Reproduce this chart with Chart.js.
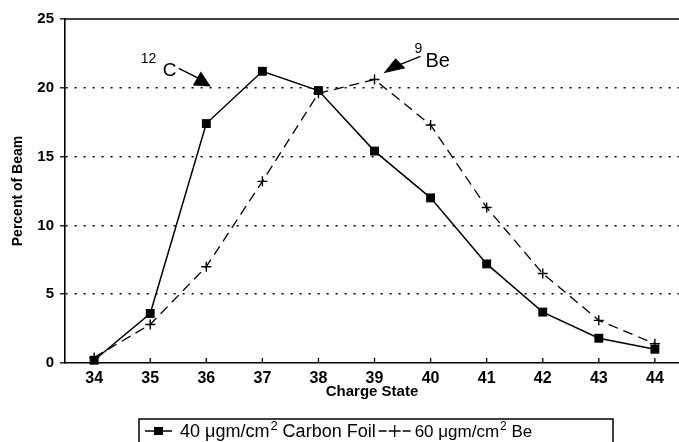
<!DOCTYPE html>
<html>
<head>
<meta charset="utf-8">
<script src="https://cdn.jsdelivr.net/npm/chart.js@4/dist/chart.umd.min.js"></script>
<style>
html,body{margin:0;padding:0;background:#fff;}
#wrap{width:679px;height:442px;position:relative;}
</style>
</head>
<body>
<div id="wrap"><canvas id="c" width="679" height="442"></canvas></div>
<script>
// ---- data ----
const chargeStates = [34, 35, 36, 37, 38, 39, 40, 41, 42, 43, 44];
const carbonFoil   = [0.2, 3.6, 17.4, 21.2, 19.8, 15.4, 12.0, 7.2, 3.7, 1.8, 1.0];
const berylliumFoil = [0.4, 2.8, 7.0, 13.2, 19.6, 20.6, 17.3, 11.3, 6.5, 3.1, 1.4];
const seriesLabels = ['40 μgm/cm² Carbon Foil', '60 μgm/cm² Be'];
const yTickValues = [0, 5, 10, 15, 20, 25];
const xTickValues = chargeStates;
const xTitle = 'Charge State';
const yTitle = 'Percent of Beam';
const peakLabels = [
  { sup: '12', text: 'C' },
  { sup: '9', text: 'Be' }
];

const FONT = '"Liberation Sans", Arial, Helvetica, sans-serif';

function toPts(xs, ys) { return xs.map((x, i) => ({ x: x, y: ys[i] })); }

// draw text containing "²" with a real superscript
function drawRich(ctx, text, x, y, size) {
  const parts = text.split('²');
  ctx.textBaseline = 'alphabetic';
  ctx.textAlign = 'left';
  let cx = x;
  parts.forEach((p, i) => {
    ctx.font = size + 'px ' + FONT;
    ctx.fillText(p, cx, y);
    cx += ctx.measureText(p).width;
    if (i < parts.length - 1) {
      ctx.font = Math.round(size * 0.72) + 'px ' + FONT;
      ctx.fillText('2', cx + 1, y - size * 0.4);
      cx += ctx.measureText('2').width + 1;
    }
  });
  ctx.font = size + 'px ' + FONT;
  return cx - x;
}

const decorPlugin = {
  id: 'decor',
  afterDraw(chart) {
    const ctx = chart.ctx;
    const xs = chart.scales.x, ys = chart.scales.y;
    const ca = chart.chartArea;
    ctx.save();
    ctx.strokeStyle = '#000';
    ctx.fillStyle = '#000';
    // top frame line at 25
    ctx.lineWidth = 1.5;
    ctx.beginPath();
    ctx.moveTo(ca.left, ys.getPixelForValue(25));
    ctx.lineTo(ca.right, ys.getPixelForValue(25));
    ctx.stroke();
    // inner tick marks on x axis
    ctx.lineWidth = 1.3;
    xTickValues.forEach(v => {
      const px = xs.getPixelForValue(v);
      ctx.beginPath();
      ctx.moveTo(px, ca.bottom);
      ctx.lineTo(px, ca.bottom - 5);
      ctx.stroke();
    });

    // annotation: 12C
    const A = { x: xs.getPixelForValue(36.08), y: ys.getPixelForValue(20.1) };
    ctx.beginPath();
    ctx.moveTo(A.x - 18, A.y - 1);
    ctx.lineTo(A.x, A.y);
    ctx.lineTo(A.x - 10, A.y - 15);
    ctx.closePath();
    ctx.fill();
    ctx.lineWidth = 1.5;
    ctx.beginPath();
    ctx.moveTo(A.x - 32, A.y - 18);
    ctx.lineTo(A.x - 12, A.y - 8);
    ctx.stroke();
    ctx.textBaseline = 'middle';
    ctx.textAlign = 'left';
    ctx.font = '19px ' + FONT;
    ctx.fillText(peakLabels[0].text, A.x - 48, A.y - 16);
    ctx.font = '14px ' + FONT;
    ctx.fillText(peakLabels[0].sup, A.x - 70, A.y - 27);

    // annotation: 9Be
    const B = { x: xs.getPixelForValue(39.16), y: ys.getPixelForValue(21.05) };
    ctx.beginPath();
    ctx.moveTo(B.x, B.y);
    ctx.lineTo(B.x + 12, B.y - 15);
    ctx.lineTo(B.x + 22, B.y - 5);
    ctx.closePath();
    ctx.fill();
    ctx.beginPath();
    ctx.moveTo(B.x + 17, B.y - 9);
    ctx.lineTo(B.x + 37, B.y - 17);
    ctx.stroke();
    ctx.font = '14px ' + FONT;
    ctx.fillText(peakLabels[1].sup, B.x + 31, B.y - 24);
    ctx.font = '20px ' + FONT;
    ctx.fillText(peakLabels[1].text, B.x + 42, B.y - 12);

    // legend
    const lx = 139, ly = 419, lr = 613;
    const cy = 431;
    ctx.lineWidth = 1.5;
    ctx.beginPath();
    ctx.moveTo(lx, chart.height + 2);
    ctx.lineTo(lx, ly);
    ctx.lineTo(lr, ly);
    ctx.lineTo(lr, chart.height + 2);
    ctx.stroke();
    // carbon symbol
    let x = 145;
    ctx.lineWidth = 1.5;
    ctx.setLineDash([]);
    ctx.beginPath();
    ctx.moveTo(x, cy); ctx.lineTo(x + 27, cy); ctx.stroke();
    ctx.fillRect(x + 9, cy - 4, 9, 8);
    x += 35;
    const w1 = drawRich(ctx, seriesLabels[0], x, cy + 6, 18);
    x += w1 + 3;
    // Be symbol
    ctx.lineWidth = 1.3;
    ctx.beginPath();
    ctx.moveTo(x, cy); ctx.lineTo(x + 8, cy);
    ctx.moveTo(x + 24, cy); ctx.lineTo(x + 32, cy);
    ctx.moveTo(x + 10, cy); ctx.lineTo(x + 22, cy);
    ctx.moveTo(x + 16, cy - 6); ctx.lineTo(x + 16, cy + 6);
    ctx.stroke();
    x += 36;
    drawRich(ctx, seriesLabels[1], x, cy + 6, 17);
    ctx.restore();
  }
};

new Chart(document.getElementById('c'), {
  type: 'line',
  data: {
    datasets: [
      {
        label: seriesLabels[0],
        data: toPts(chargeStates, carbonFoil),
        borderColor: '#000',
        backgroundColor: '#000',
        borderWidth: 1.5,
        pointStyle: 'rect',
        pointRadius: 6.3,
        pointBorderWidth: 0,
        pointBackgroundColor: '#000',
        tension: 0,
        fill: false,
        clip: false
      },
      {
        label: seriesLabels[1],
        data: toPts(chargeStates, berylliumFoil),
        borderColor: '#000',
        backgroundColor: '#000',
        borderWidth: 1.3,
        borderDash: [10, 6],
        pointStyle: 'cross',
        pointRadius: 5,
        pointBorderWidth: 1.4,
        pointBorderColor: '#000',
        tension: 0,
        fill: false,
        clip: false
      }
    ]
  },
  plugins: [decorPlugin],
  options: {
    responsive: false,
    animation: false,
    events: [],
    layout: { autoPadding: false, padding: { top: 19, right: 0, bottom: 41, left: 0 } },
    plugins: {
      legend: { display: false },
      tooltip: { enabled: false }
    },
    scales: {
      x: {
        type: 'linear',
        min: 33.48,
        max: 44.43,
        afterBuildTicks: s => { s.ticks = xTickValues.map(v => ({ value: v })); },
        afterFit: s => { s.height = 38; s.paddingRight = 0; s.paddingLeft = 0; },
        grid: { display: false, drawTicks: false },
        border: { display: true, color: '#000', width: 1.6 },
        ticks: {
          padding: 6,
          color: '#000',
          font: { family: FONT, size: 16, weight: 'bold' },
          maxRotation: 0,
          autoSkip: false
        },
        title: {
          display: true,
          text: xTitle,
          color: '#000',
          font: { family: FONT, size: 15, weight: 'bold' },
          padding: { top: 0, bottom: 0 }
        }
      },
      y: {
        min: 0,
        max: 25,
        afterBuildTicks: s => { s.ticks = yTickValues.map(v => ({ value: v })); },
        afterFit: s => { s.width = 65; },
        grid: {
          color: c => (c.tick && (c.tick.value === 0 || c.tick.value === 25)) ? 'rgba(0,0,0,0)' : '#000',
          lineWidth: 1.6,
          drawTicks: true,
          tickLength: 5,
          tickColor: '#000',
          tickWidth: 1.3
        },
        border: { display: true, color: '#000', width: 1.6, dash: [2, 7] },
        ticks: {
          padding: 6,
          color: '#000',
          font: { family: FONT, size: 15, weight: 'bold' }
        },
        title: {
          display: true,
          text: yTitle,
          color: '#000',
          font: { family: FONT, size: 14, weight: 'bold' },
          padding: { top: 10, bottom: 0 }
        }
      }
    }
  }
});
</script>
</body>
</html>
